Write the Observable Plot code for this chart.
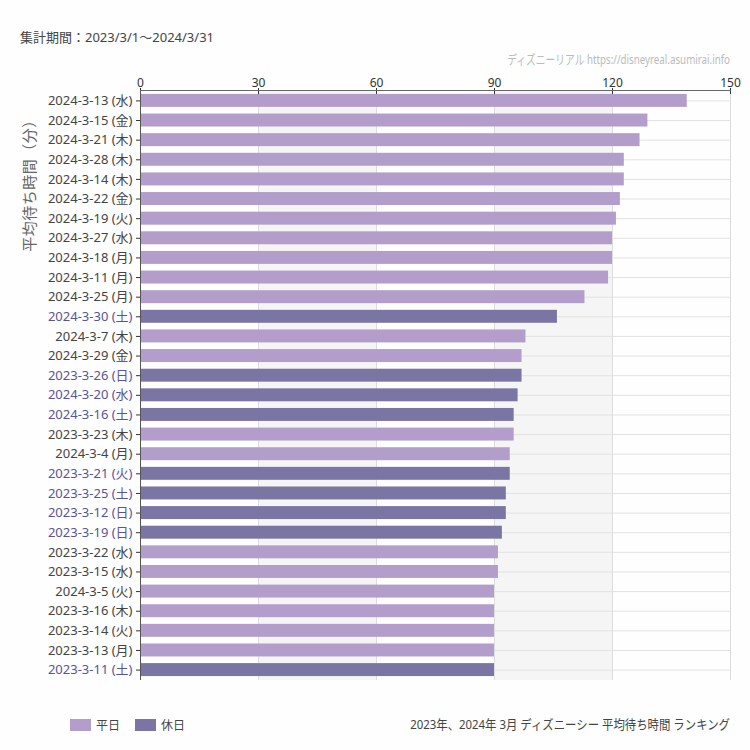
<!DOCTYPE html>
<html><head><meta charset="utf-8">
<script src="https://cdn.jsdelivr.net/npm/d3@7"></script>
<script src="https://cdn.jsdelivr.net/npm/@observablehq/plot@0.6"></script>
<style>
body{margin:0;background:#fdfefd;font-family:"Noto Sans","Noto Sans CJK JP",sans-serif}
</style>
</head><body><div id="chart"></div>
<script>
const dates = ["2024-3-13 (水)", "2024-3-15 (金)", "2024-3-21 (木)", "2024-3-28 (木)", "2024-3-14 (木)", "2024-3-22 (金)", "2024-3-19 (火)", "2024-3-27 (水)", "2024-3-18 (月)", "2024-3-11 (月)", "2024-3-25 (月)", "2024-3-30 (土)", "2024-3-7 (木)", "2024-3-29 (金)", "2023-3-26 (日)", "2024-3-20 (水)", "2024-3-16 (土)", "2023-3-23 (木)", "2024-3-4 (月)", "2023-3-21 (火)", "2023-3-25 (土)", "2023-3-12 (日)", "2023-3-19 (日)", "2023-3-22 (水)", "2023-3-15 (水)", "2024-3-5 (火)", "2023-3-16 (木)", "2023-3-14 (火)", "2023-3-13 (月)", "2023-3-11 (土)"];
const dayTypes = ["平日","平日","平日","平日","平日","平日","平日","平日","平日","平日","平日","休日","平日","平日","休日","休日","休日","平日","平日","休日","休日","休日","休日","平日","平日","平日","平日","平日","平日","休日"];
const waitMinutes = [139,129,127,123,123,122,121,120,120,119,113,106,98,97,97,96,95,95,94,94,93,93,92,91,91,90,90,90,90,90];
const xTicks = [0,30,60,90,120,150];
const shadeBands = [[30,60],[90,120]];
const legendItems = ["平日","休日"];
const barColors = {"平日":"#b39dca","休日":"#7b75a3"};
const labelColors = {"平日":"#444444","休日":"#5a5399"};
const titleText = "集計期間：2023/3/1〜2024/3/31";
const watermarkText = "ディズニーリアル https://disneyreal.asumirai.info";
const yLabelText = "平均待ち時間（分）";
const captionText = "2023年、2024年 3月 ディズニーシー 平均待ち時間 ランキング";

const data = dates.map((d,i)=>({date:d,type:dayTypes[i],value:waitMinutes[i]}));
const font = '"Noto Sans","Noto Sans CJK JP",sans-serif';

const plot = Plot.plot({
  width:750,height:750,marginTop:90,marginBottom:70,marginLeft:140,marginRight:20,
  style:{background:"transparent",fontFamily:font,fontSize:"12px",color:"#333"},
  x:{domain:[0,150]},
  y:{domain:dates,paddingInner:0.34,paddingOuter:0.2,round:false},
  color:{type:"identity"},
  marks:[
    Plot.rectX(shadeBands,{x1:d=>d[0],x2:d=>d[1],fill:"#f4f5f4"}),
    Plot.gridX(xTicks,{stroke:"#dddddd",strokeOpacity:1}),
    Plot.ruleY(data,{y:"date",stroke:"#e2e2e2"}),
    Plot.barX(data,{y:"date",x:"value",fill:d=>barColors[d.type]}),
    Plot.text(data,{y:"date",x:0,text:"date",textAnchor:"end",dx:-8,fill:d=>labelColors[d.type],fontSize:13}),
    Plot.axisY({tickSize:4,tickFormat:()=>"",label:null,stroke:"#333"}),
    Plot.axisX({anchor:"top",ticks:xTicks,tickSize:6,dy:3,tickPadding:1,label:null,fontSize:12,stroke:"#333",fill:"#333"}),
    Plot.ruleX([0],{stroke:"#555"}),
    Plot.frame({anchor:"top",stroke:"#666"})
  ]
});
document.getElementById("chart").appendChild(plot);

const svg = d3.select(plot);
function fitText(txt, x, y, targetW, size, color){
  const g = svg.append("g").attr("transform",`translate(${x},${y})`);
  const t = g.append("text").attr("x",0).attr("y",0).attr("text-anchor","end").attr("fill",color)
    .attr("font-size",size).attr("font-family",font).text(txt);
  const w = t.node().getComputedTextLength();
  const s = w > targetW ? targetW / w : 1;
  g.attr("transform",`translate(${x},${y}) scale(${s},1)`);
}
svg.append("text").attr("x",20).attr("y",42).attr("text-anchor","start").attr("fill","#444").attr("font-size",13)
  .attr("font-family",font).text(titleText);
fitText(watermarkText, 730, 64, 223, 13, "#bbbbbb");
svg.append("text").attr("transform","translate(35,182) rotate(-90)").attr("text-anchor","middle")
  .attr("fill","#666").attr("font-size",15).attr("font-family",font).attr("letter-spacing",0.5).text(yLabelText);
const lg = svg.append("g");
legendItems.forEach((k,i)=>{
  const x0 = 70 + i*65;
  lg.append("rect").attr("x",x0).attr("y",719).attr("width",21).attr("height",12).attr("fill",barColors[k]);
  lg.append("text").attr("x",x0+26).attr("y",730).attr("text-anchor","start").attr("fill","#444").attr("font-size",12).attr("font-family",font).text(k);
});
fitText(captionText, 730, 729, 320, 13, "#444");
</script>
</body></html>
